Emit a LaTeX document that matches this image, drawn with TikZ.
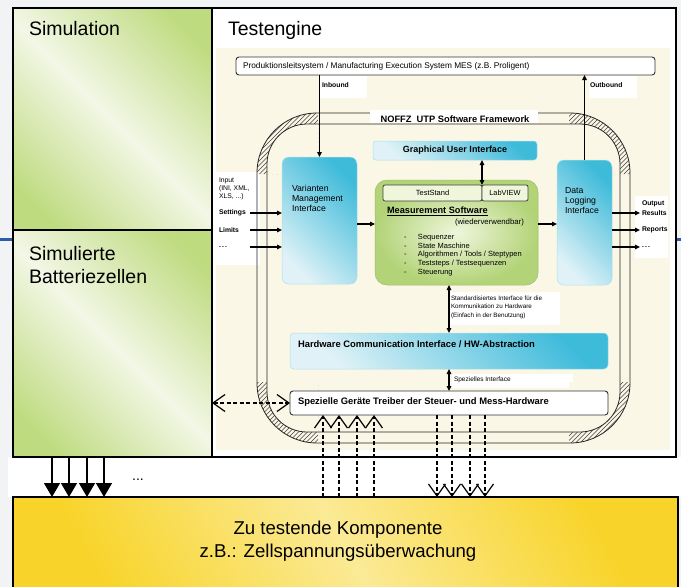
\documentclass[tikz,border=0pt]{standalone}
\usepackage{fontspec}
\setmainfont{Liberation Sans}
\usetikzlibrary{arrows.meta}

\definecolor{simG}{HTML}{BEDB7F}
\definecolor{simW}{HTML}{F3F7E6}
\definecolor{kompY}{HTML}{F8D42A}
\definecolor{kompW}{HTML}{FBEA96}
\definecolor{cream}{HTML}{FBF7E6}
\definecolor{cyanD}{HTML}{3FBBDA}
\definecolor{cyanL}{HTML}{E0F2F7}
\definecolor{msG}{HTML}{B2D377}
\definecolor{msW}{HTML}{EFF6DC}
\definecolor{bgGrey}{HTML}{F2F3F5}
\definecolor{slideBlue}{HTML}{2B5BAA}

\pgfdeclareverticalshading{simband}{100bp}{color(0bp)=(simG); color(22bp)=(simG); color(50bp)=(simW); color(78bp)=(simG); color(100bp)=(simG)}
\pgfdeclareverticalshading{kompband}{100bp}{color(0bp)=(kompY); color(25bp)=(kompY); color(50bp)=(kompW); color(75bp)=(kompY); color(100bp)=(kompY)}

\newcommand\setfs[2]{\fontsize{#1}{#2}\selectfont}

\tikzset{
  bigtxt/.style={font=\setfs{19.5}{23}},
  outerbox/.style={draw=black, line width=1.6, anchor=north west},
  frameline/.style={draw=black!85, line width=0.8},
  cyanbox/.style={rounded corners=7pt, top color=cyanD, bottom color=cyanL, shading angle=-45, draw=cyanD!45, line width=0.5, anchor=north west},
  labelbg/.style={fill=white, anchor=north west},
  smallbold/.style={font=\setfs{6.8}{8}\bfseries, anchor=west},
  Sm/.tip={Triangle[length=5pt,width=4.5pt]},
  Vb/.tip={Straight Barb[length=12pt,width=17pt]},
  Tri/.tip={Triangle[length=14pt,width=16pt]},
  arr/.style={-Sm, line width=1.1},
  dbl/.style={Sm-Sm, line width=1.1},
  dashline/.style={line width=1.2, dash pattern=on 4pt off 2.5pt},
}

\begin{document}
\begin{tikzpicture}[x=1pt,y=-1pt, every node/.style={inner sep=0pt,outer sep=0pt}]
\clip (0,0) rectangle (681,587);
\fill[bgGrey] (0,0) rectangle (681,587);
\fill[white] (8,457) rectangle (681,497);
\fill[slideBlue] (0,238) rectangle (13,241);
\fill[slideBlue] (677,238) rectangle (681,241);

% component under test
\node[outerbox, shade, shading=kompband, shading angle=-60, minimum width=665, minimum height=100] (komp) at (13,497) {};
\node[anchor=north, align=center, font=\setfs{18.6}{23}] (kompT) at (338,521.3) {Zu testende Komponente\\z.B.: Zellspannungsüberwachung};

% test engine frame
\node[outerbox, fill=white, minimum width=464, minimum height=449] (te) at (212,8) {};
\fill[cream] (216,48) rectangle (670,450);
\node[bigtxt, anchor=base west] (teT) at (228,35) {Testengine};

% simulation blocks
\node[outerbox, shade, shading=simband, shading angle=-45, minimum width=199, minimum height=222] (sim) at (13,8) {};
\node[outerbox, shade, shading=simband, shading angle=-45, minimum width=199, minimum height=227] (simb) at (13,230) {};
\node[bigtxt, anchor=base west] (simT) at (29,35) {Simulation};
\node[bigtxt, anchor=base west] (simbT1) at (29,260) {Simulierte};
\node[bigtxt, anchor=base west] (simbT2) at (29,283) {Batteriezellen};

% MES
\node[draw=black!80, line width=0.9, fill=white, rounded corners=3pt, anchor=north west, minimum width=419, minimum height=18] (mes) at (236,57) {};
\node[anchor=west, font=\setfs{8.3}{9}] (mesT) at (243,66) {Produktionsleitsystem / Manufacturing Execution System MES (z.B. Proligent)};

% white label backgrounds
\node[labelbg, minimum width=47, minimum height=22] (inbBg) at (320,76) {};
\node[labelbg, minimum width=48, minimum height=22] (outbBg) at (589,76) {};
\node[labelbg, minimum width=44, minimum height=93] (inBg) at (216,172) {};
\node[labelbg, minimum width=33, minimum height=62] (outBg) at (635,196) {};
\node[labelbg, minimum width=111, minimum height=33] (stdBg) at (449,292) {};
\node[labelbg, minimum width=121, minimum height=14] (spzBg) at (452,374) {};

% software framework: double outline with hatched corners
\begin{scope}
  \clip (257,113) rectangle +(61,61) (630,113) rectangle +(-61,61)
        (257,443) rectangle +(61,-61) (630,443) rectangle +(-61,-61);
  \begin{scope}
    \clip[rounded corners=60pt] (257,113) rectangle (630,443);
    \foreach \a in {-220,-215.5,...,700} \draw[line width=0.5, black!75] (\a,460) -- ++(400,-400);
  \end{scope}
  \fill[cream, rounded corners=40pt] (267,124) rectangle (620,432);
\end{scope}
\draw[frameline, rounded corners=60pt] (257,113) rectangle (630,443);
\draw[frameline, rounded corners=40pt] (267,124) rectangle (620,432);
\node[fill=white, anchor=north west, minimum width=168, minimum height=12.5] (fwBg) at (370,110) {};
\node[font=\setfs{9.3}{10}\bfseries] (fwT) at (455,119) {NOFFZ\ \ UTP Software Framework};

% inner blocks
\node[cyanbox, rounded corners=3pt, minimum width=164, minimum height=19, font=\setfs{9}{10}\bfseries] (gui) at (373,141) {Graphical User Interface};
\node[cyanbox, minimum width=75, minimum height=127] (var) at (282,157) {};
\node[anchor=north west, align=left, font=\setfs{8.7}{10}] (varT) at (292,184.9) {Varianten\\Management\\Interface};
\node[cyanbox, minimum width=55, minimum height=125] (dl) at (557,160) {};
\node[anchor=north west, align=left, font=\setfs{8.7}{10}] (dlT) at (565,187.9) {Data\\Logging\\Interface};

\node[rounded corners=12pt, inner color=msW, outer color=msG, draw=msG!90!black, line width=0.5, anchor=north west, minimum width=163, minimum height=105] (ms) at (375,180) {};
\node[draw=black!75, line width=0.8, fill=msW, rounded corners=2pt, anchor=north west, minimum width=99, minimum height=16, font=\setfs{7.5}{8}] (ts) at (383,185) {TestStand};
\node[draw=black!75, line width=0.8, fill=msW, rounded corners=2pt, anchor=north west, minimum width=46, minimum height=16, font=\setfs{7.4}{8}] (lv) at (482,185) {LabVIEW};
\node[anchor=west, font=\setfs{9.2}{10}\bfseries] (msT) at (387,211) {\underline{Measurement Software}};
\node[anchor=west, font=\setfs{7.8}{8}] (msR) at (455,222) {(wiederverwendbar)};
\node[anchor=north west, align=left, font=\setfs{7.5}{8.7}] (msL) at (404,234.3)
  {\makebox[14pt][l]{-}Sequenzer\\\makebox[14pt][l]{-}State Maschine\\\makebox[14pt][l]{-}Algorithmen / Tools / Steptypen\\\makebox[14pt][l]{-}Teststeps / Testsequenzen\\\makebox[14pt][l]{-}Steuerung};

\node[cyanbox, rounded corners=4pt, minimum width=318, minimum height=36] (hw) at (290,333) {};
\node[anchor=west, font=\setfs{9.4}{10}\bfseries] (hwT) at (298,344) {Hardware Communication Interface / HW-Abstraction};
\node[draw=black!80, line width=0.9, fill=white, rounded corners=3pt, anchor=north west, minimum width=318, minimum height=24] (tr) at (290,391) {};
\node[anchor=west, font=\setfs{9.4}{10}\bfseries] (trT) at (298,402) {Spezielle Geräte Treiber der Steuer- und Mess-Hardware};

% labels
\node[smallbold] (inbT) at (322,85) {Inbound};
\node[smallbold] (outbT) at (590,85) {Outbound};
\node[anchor=north west, align=left, font=\setfs{6.8}{8}] (inT) at (219,177.6) {Input\\(INI, XML,\\XLS, ...)};
\node[smallbold] (inSet) at (219,213) {Settings};
\node[smallbold] (inLim) at (219,230) {Limits};
\node[smallbold] (inDots) at (219,247) {.\,.\,.};
\node[smallbold] (outOut) at (642,204) {Output};
\node[smallbold] (outRes) at (642,213) {Results};
\node[smallbold] (outRep) at (642,230) {Reports};
\node[smallbold] (outDots) at (642,247) {.\,.\,.};
\node[anchor=north west, align=left, font=\setfs{6.3}{8.5}] (stdT) at (451,295.7) {Standardisiertes Interface für die\\Kommunikation zu Hardware\\(Einfach in der Benutzung)};
\node[anchor=west, font=\setfs{6.5}{7}] (spzT) at (454,380) {Spezielles Interface};

% helper x positions
\coordinate (inX) at (250,0);
\coordinate (outX) at (640,0);
\coordinate (rowM) at (0,224);

% connectors
\draw[arr] (var.north |- mes.south) -- (var.north);
\draw[arr] (dl.north) -- (dl.north |- mes.south);
\draw[dbl] (gui.south -| ts.north east) -- (ts.north east);
\draw[arr] (rowM -| var.east) -- (rowM -| ms.west);
\draw[arr] (rowM -| ms.east) -- (rowM -| dl.west);
\foreach \n in {inSet,inLim,inDots} \draw[arr] (\n -| inX) -- (\n -| var.west);
\foreach \n in {outRes,outRep,outDots} \draw[arr] (\n -| dl.east) -- (\n -| outX);
\draw[dbl] (hw.north) -- (hw.north |- ms.south);
\draw[dbl] (tr.north) -- (hw.south);

% dashed links to the hardware
\draw[dashline, Vb-Vb] (te.west |- tr.west) -- (tr.west);
\foreach \x in {323,339,357,374} {
  \coordinate (u) at (\x,0);
  \draw[dashline, -Vb] (komp.north -| u) -- (tr.south -| u);
}
\foreach \x in {437,452,470,485} {
  \coordinate (d) at (\x,0);
  \draw[dashline, -Vb] (tr.south -| d) -- (komp.north -| d);
}

% simulated cells feeding the component
\foreach \x in {52,69,87,104} {
  \coordinate (s) at (\x,0);
  \draw[line width=1.2, -Tri] (simb.south -| s) -- (komp.north -| s);
}
\node[font=\setfs{14}{14}] (simDots) at (138,480) {...};
\end{tikzpicture}
\end{document}
